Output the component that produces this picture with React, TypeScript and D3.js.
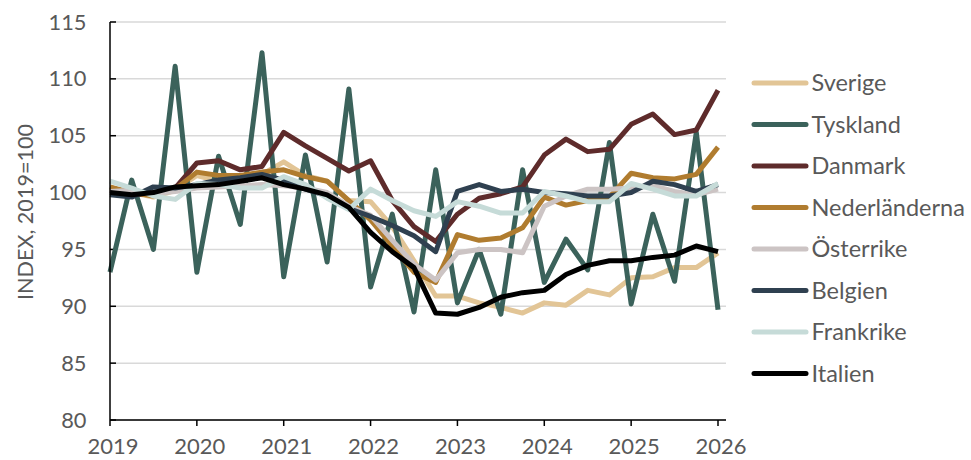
import React from "react";
import * as d3 from "d3";

const quarters: number[] = d3.range(29).map((i) => 2019 + i / 4);
const yearTicks = [2019, 2020, 2021, 2022, 2023, 2024, 2025, 2026];
const yTicks = [80, 85, 90, 95, 100, 105, 110, 115];

const sverige = [100.4, 100.0, 99.6, 100.2, 101.5, 101.0, 101.2, 101.6, 102.7, 101.5, 101.0, 99.3, 99.2, 97.0, 94.0, 90.9, 90.9, 90.3, 89.9, 89.4, 90.3, 90.1, 91.4, 91.0, 92.5, 92.6, 93.4, 93.4, 94.7];
const tyskland = [93.0, 101.1, 95.0, 111.1, 93.0, 103.2, 97.2, 112.3, 92.6, 103.3, 93.9, 109.1, 91.7, 98.1, 89.5, 102.0, 90.3, 95.0, 89.3, 102.0, 92.1, 95.9, 93.2, 104.4, 90.2, 98.1, 92.2, 105.3, 89.7];
const danmark = [100.2, 99.8, 99.9, 100.4, 102.6, 102.8, 102.0, 102.3, 105.3, 104.1, 103.0, 101.9, 102.8, 99.3, 97.0, 95.7, 98.1, 99.5, 99.9, 100.5, 103.3, 104.7, 103.6, 103.8, 106.0, 106.9, 105.1, 105.5, 109.0];
const nederlanderna = [100.5, 100.0, 99.7, 100.3, 101.8, 101.5, 101.5, 101.8, 102.0, 101.4, 101.0, 99.3, 97.6, 95.3, 93.0, 92.1, 96.3, 95.8, 96.0, 96.9, 99.6, 98.9, 99.3, 99.6, 101.7, 101.3, 101.2, 101.6, 104.0];
const osterrike = [100.1, 100.2, 99.9, 100.1, 100.4, 100.5, 100.6, 100.7, 100.6, 100.4, 100.0, 98.8, 98.0, 95.8, 93.7, 92.3, 94.7, 95.0, 95.0, 94.7, 98.8, 99.7, 100.3, 100.3, 100.4, 100.6, 100.1, 99.8, 100.3];
const belgien = [99.8, 99.6, 100.5, 100.4, 100.7, 101.1, 101.3, 101.6, 101.1, 100.3, 99.7, 98.6, 97.9, 97.1, 96.2, 94.8, 100.1, 100.7, 100.1, 100.3, 100.0, 99.9, 99.7, 99.7, 100.0, 101.0, 100.7, 100.1, 100.7];
const frankrike = [101.0, 100.4, 99.7, 99.4, 100.8, 100.7, 100.4, 100.4, 101.4, 100.7, 99.5, 98.5, 100.3, 99.3, 98.4, 97.9, 99.2, 98.8, 98.2, 98.2, 100.1, 99.7, 99.2, 99.2, 100.8, 100.3, 99.7, 99.7, 100.8];
const italien = [100.0, 99.8, 100.0, 100.5, 100.6, 100.7, 101.0, 101.3, 100.7, 100.3, 99.8, 98.7, 96.5, 94.8, 93.4, 89.4, 89.3, 89.9, 90.8, 91.2, 91.4, 92.8, 93.6, 94.0, 94.0, 94.3, 94.5, 95.3, 94.8];

const seriesNames = ["Sverige", "Tyskland", "Danmark", "Nederländerna", "Österrike", "Belgien", "Frankrike", "Italien"];
const seriesValues = [sverige, tyskland, danmark, nederlanderna, osterrike, belgien, frankrike, italien];
const seriesColors = ["#e2c596", "#3b625b", "#5e2b2b", "#b07c2f", "#ccc4c4", "#2f4050", "#c6dbd8", "#000000"];

const W = 971;
const H = 460;
const FONT = "Lato, 'Open Sans', sans-serif";
const TEXT = "#595959";

export default function App() {
  const x = d3.scaleLinear().domain([2019, 2026]).range([110, 718]);
  const y = d3.scaleLinear().domain([80, 115]).range([420, 22]);
  const line = d3
    .line<number>()
    .x((_, i) => x(quarters[i]))
    .y((d) => y(d));

  return (
    <svg width={W} height={H} style={{ position: "absolute", left: 0, top: 0, background: "#fff" }} fontFamily={FONT}>
      {yTicks.map((t) => (
        <line key={"g" + t} x1={x(2019)} x2={726} y1={y(t)} y2={y(t)} stroke="#d9d9d9" strokeWidth={1.5} />
      ))}
      {yTicks.map((t) => (
        <g key={"yt" + t}>
          <line x1={x(2019)} x2={x(2019) + 6} y1={y(t)} y2={y(t)} stroke="#000" strokeWidth={1.5} />
          <text x={86.5} y={y(t)} dy="0.35em" textAnchor="end" fontSize={21.8} fill={TEXT}>
            {t}
          </text>
        </g>
      ))}
      {seriesValues.map((vals, k) => (
        <path
          key={seriesNames[k]}
          d={line(vals) || ""}
          fill="none"
          stroke={seriesColors[k]}
          strokeWidth={5}
          strokeLinejoin="round"
          strokeLinecap="butt"
        />
      ))}
      <line x1={x(2019)} x2={x(2019)} y1={y(115)} y2={y(80)} stroke="#000" strokeWidth={1.5} />
      <line x1={x(2019)} x2={726} y1={y(80)} y2={y(80)} stroke="#000" strokeWidth={1.5} />
      {yearTicks.map((t) => (
        <g key={"xt" + t}>
          <line x1={x(t)} x2={x(t)} y1={y(80)} y2={y(80) + 6} stroke="#000" strokeWidth={1.5} />
          <text x={x(t) + 3} y={454} textAnchor="middle" fontSize={22} fill={TEXT}>
            {t}
          </text>
        </g>
      ))}
      <text
        transform={`translate(25,212) rotate(-90)`}
        textAnchor="middle"
        dy="0.35em"
        fontSize={21.6}
        fill={TEXT}
      >
        INDEX, 2019=100
      </text>
      {seriesNames.map((n, k) => {
        const ly = 83 + k * 41.5;
        return (
          <g key={"lg" + n}>
            <line x1={754} x2={806} y1={ly} y2={ly} stroke={seriesColors[k]} strokeWidth={5} strokeLinecap="round" />
            <text x={811.5} y={ly} dy="0.35em" fontSize={23.5} fill={TEXT}>
              {n}
            </text>
          </g>
        );
      })}
    </svg>
  );
}
